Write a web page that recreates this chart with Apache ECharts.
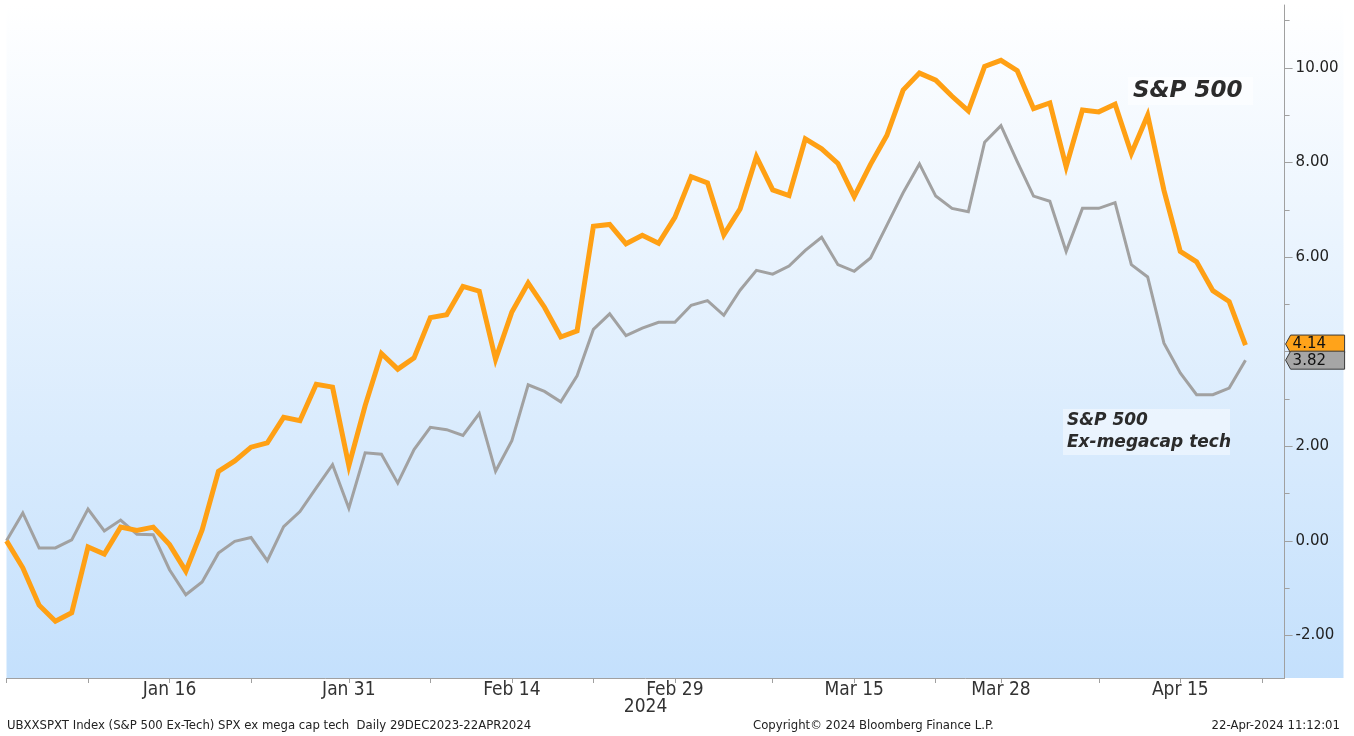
<!DOCTYPE html>
<html><head><meta charset="utf-8">
<script src="https://cdn.jsdelivr.net/npm/echarts@6/dist/echarts.min.js"></script>
<style>html,body{margin:0;padding:0;background:#fff}#c{width:1354px;height:736px}</style>
</head><body><div id="c"></div>
<script>
// trading days 29 Dec 2023 .. 19 Apr 2024 (index = position on x axis)
const dates = ['2023-12-29',
 '2024-01-02','2024-01-03','2024-01-04','2024-01-05','2024-01-08','2024-01-09','2024-01-10','2024-01-11','2024-01-12',
 '2024-01-16','2024-01-17','2024-01-18','2024-01-19','2024-01-22','2024-01-23','2024-01-24','2024-01-25','2024-01-26',
 '2024-01-29','2024-01-30','2024-01-31','2024-02-01','2024-02-02','2024-02-05','2024-02-06','2024-02-07','2024-02-08','2024-02-09',
 '2024-02-12','2024-02-13','2024-02-14','2024-02-15','2024-02-16','2024-02-20','2024-02-21','2024-02-22','2024-02-23',
 '2024-02-26','2024-02-27','2024-02-28','2024-02-29','2024-03-01','2024-03-04','2024-03-05','2024-03-06','2024-03-07','2024-03-08',
 '2024-03-11','2024-03-12','2024-03-13','2024-03-14','2024-03-15','2024-03-18','2024-03-19','2024-03-20','2024-03-21','2024-03-22',
 '2024-03-25','2024-03-26','2024-03-27','2024-03-28','2024-04-01','2024-04-02','2024-04-03','2024-04-04','2024-04-05',
 '2024-04-08','2024-04-09','2024-04-10','2024-04-11','2024-04-12','2024-04-15','2024-04-16','2024-04-17','2024-04-18','2024-04-19'];

const spx500 = [0,
 -0.57,-1.36,-1.70,-1.52,-0.13,-0.28,0.29,0.22,0.29,
 -0.08,-0.64,0.23,1.47,1.69,1.98,2.07,2.61,2.54,
 3.31,3.25,1.59,2.86,3.96,3.63,3.87,4.72,4.78,5.38,
 5.28,3.84,4.84,5.45,4.94,4.31,4.44,6.65,6.69,
 6.28,6.46,6.29,6.84,7.70,7.57,6.47,7.02,8.12,7.42,
 7.30,8.50,8.29,7.98,7.28,7.96,8.57,9.53,9.89,9.74,
 9.40,9.09,10.03,10.16,9.94,9.14,9.26,7.91,9.11,
 9.07,9.23,8.19,9.00,7.41,6.12,5.90,5.29,5.06,4.14];

const spxExTech = [0,
 0.59,-0.15,-0.15,0.02,0.67,0.21,0.44,0.14,0.13,
 -0.61,-1.14,-0.87,-0.26,-0.01,0.07,-0.42,0.30,0.62,
 1.12,1.61,0.69,1.86,1.83,1.22,1.93,2.40,2.35,2.23,
 2.69,1.47,2.12,3.30,3.16,2.94,3.49,4.47,4.80,
 4.34,4.50,4.62,4.62,4.98,5.08,4.77,5.30,5.72,5.64,
 5.81,6.14,6.42,5.84,5.70,5.98,6.67,7.36,7.97,7.29,
 7.03,6.96,8.43,8.78,8.02,7.29,7.18,6.12,7.03,
 7.03,7.15,5.84,5.58,4.18,3.55,3.09,3.09,3.23,3.82];

const xLabelIdx = [10,21,31,41,52,61,72];
const xLabelText = ['Jan 16','Jan 31','Feb 14','Feb 29','Mar 15','Mar 28','Apr 15'];
const xTickIdx = [0,5,10,15,21,26,31,36,41,47,52,57,61,67,72,77];
const yLabelVals = [-2,0,2,6,8,10];
const yTickVals = [-2,0,2,4,6,8,10];
const yMinorVals = [-1,1,3,5,7,9,11];

const condensed = '"Liberation Sans Narrow","DejaVu Sans Condensed","Arial Narrow","Liberation Sans",sans-serif';
const chart = echarts.init(document.getElementById('c'), null, {renderer:'canvas'});

const option = {
  animation:false,
  grid:{left:6.5, right:69.4, top:5, bottom:58},
  xAxis:{
    type:'value', min:0, max:78.4,
    axisLine:{show:true, onZero:false, lineStyle:{color:'#a0a0a0', width:1}},
    axisTick:{show:true, customValues:xTickIdx, length:5, lineStyle:{color:'#a0a0a0'}},
    axisLabel:{customValues:xLabelIdx, formatter:v=>xLabelText[xLabelIdx.indexOf(v)],
      color:'#333', fontFamily:condensed, fontSize:19, margin:3},
    splitLine:{show:false},
    name:'2024', nameLocation:'middle', nameGap:29, nameMoveOverlap:false,
    nameTextStyle:{color:'#333', fontFamily:condensed, fontSize:19, verticalAlign:'middle'}
  },
  yAxis:[{
    type:'value', position:'right', min:-2.9, max:11.33,
    axisLine:{show:true, onZero:false, lineStyle:{color:'#a0a0a0', width:1}},
    axisTick:{show:true, customValues:yTickVals, length:8, lineStyle:{color:'#a0a0a0'}},
    axisLabel:{customValues:yLabelVals, formatter:v=>v.toFixed(2), color:'#222',
      fontFamily:'"DejaVu Sans",sans-serif', fontSize:15, margin:11},
    splitLine:{show:false}
  },{
    type:'value', position:'right', min:-2.9, max:11.33,
    axisLine:{show:false, onZero:false},
    axisTick:{show:true, customValues:yMinorVals, length:5, lineStyle:{color:'#a0a0a0'}},
    axisLabel:{show:false}, splitLine:{show:false}
  }],
  series:[{
    name:'S&P 500 Ex-megacap tech', type:'line', yAxisIndex:0,
    data:spxExTech.map((v,i)=>[i,v]), showSymbol:false, symbol:'none',
    lineStyle:{color:'#a1a1a1', width:3, join:'miter'}, z:3
  },{
    name:'S&P 500', type:'line', yAxisIndex:0,
    data:spx500.map((v,i)=>[i,v]), showSymbol:false, symbol:'none',
    lineStyle:{color:'#ffa014', width:5, join:'miter'}, z:4
  }],
  graphic:[
    {id:'bg', type:'rect', z:-10, silent:true,
      shape:{x:6.5, y:4, width:1337, height:674},
      style:{fill:new echarts.graphic.LinearGradient(0,0,0,1,[{offset:0,color:'#ffffff'},{offset:1,color:'#c4e0fc'}])}},
    {id:'a1box', type:'rect', z:50, shape:{x:1128, y:77, width:125, height:28}, style:{fill:'rgba(255,255,255,0.55)'}},
    {id:'a1', type:'text', z:51, style:{x:1133, y:91, text:'S&P 500', font:'italic bold 23px "DejaVu Sans"', fill:'#2b2b2b', verticalAlign:'middle'}},
    {id:'a2box', type:'rect', z:50, shape:{x:1063, y:409, width:167, height:46}, style:{fill:'rgba(255,255,255,0.45)'}},
    {id:'a2', type:'text', z:51, style:{x:1067, y:421, text:'S&P 500', font:'italic bold 17px "DejaVu Sans"', fill:'#2b2b2b', verticalAlign:'middle'}},
    {id:'a3', type:'text', z:51, style:{x:1067, y:443, text:'Ex-megacap tech', font:'italic bold 17px "DejaVu Sans"', fill:'#2b2b2b', verticalAlign:'middle'}},
    {id:'f1', type:'text', style:{x:7, y:726, text:'UBXXSPXT Index (S&P 500 Ex-Tech) SPX ex mega cap tech  Daily 29DEC2023-22APR2024', font:'13px '+condensed, fill:'#222', verticalAlign:'middle'}},
    {id:'f2', type:'text', style:{x:753, y:726, text:'Copyright\u00a9 2024 Bloomberg Finance L.P.', font:'13px '+condensed, fill:'#222', verticalAlign:'middle'}},
    {id:'f3', type:'text', style:{x:1340, y:726, text:'22-Apr-2024 11:12:01', font:'13px '+condensed, fill:'#222', verticalAlign:'middle', align:'right'}}
  ]
};
chart.setOption(option);

// last-value tags on the right axis, positioned through the y scale
const lastIdx = spx500.length - 1;
function tag(id, val, fill, dy, z){
  const y = chart.convertToPixel({yAxisIndex:0}, val) + dy;
  const x0 = chart.convertToPixel({xAxisIndex:0}, 78.4);
  const h = 9;
  return [
    {id:id+'p', type:'polygon', z:z, shape:{points:[[x0+1,y],[x0+6,y-h],[x0+60,y-h],[x0+60,y+h],[x0+6,y+h]]},
      style:{fill:fill, stroke:'#3a3a3a', lineWidth:1}},
    {id:id+'t', type:'text', z:z+1, style:{x:x0+8, y:y+0.5, text:val.toFixed(2), font:'15px "DejaVu Sans"', fill:'#111', verticalAlign:'middle'}}
  ];
}
chart.setOption({graphic:[
  ...tag('tagA', spx500[lastIdx], '#ffa31a', -1, 60),
  ...tag('tagB', spxExTech[lastIdx], '#a6a6a6', 0, 62)
]});
</script></body></html>
